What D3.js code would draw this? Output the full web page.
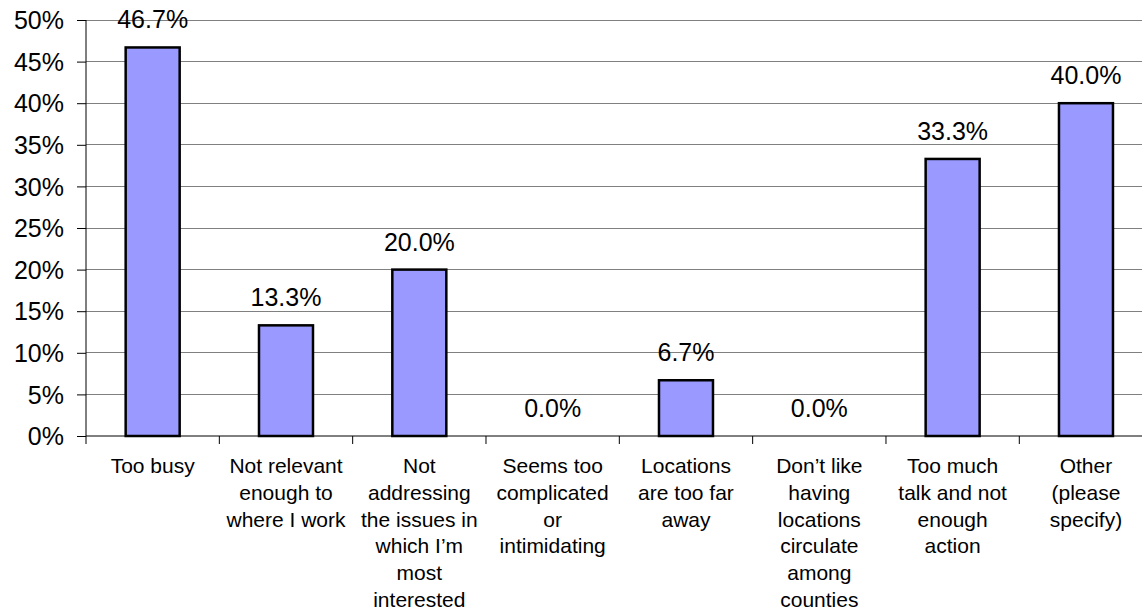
<!DOCTYPE html>
<html><head><meta charset="utf-8">
<script src="https://cdn.jsdelivr.net/npm/d3@7/dist/d3.min.js"></script>
<style>body{margin:0;background:#fff}svg{display:block}text{font-family:"Liberation Sans",Arial,sans-serif;fill:#000}</style>
</head><body><svg id="c" width="1142" height="613"></svg>
<script>
const categories = ["Too busy","Not relevant enough to where I work","Not addressing the issues in which I’m most interested","Seems too complicated or intimidating","Locations are too far away","Don’t like having locations circulate among counties","Too much talk and not enough action","Other (please specify)"];
const categoryLines = [
  ["Too busy"],
  ["Not relevant","enough to","where I work"],
  ["Not","addressing","the issues in","which I’m","most","interested"],
  ["Seems too","complicated","or","intimidating"],
  ["Locations","are too far","away"],
  ["Don’t like","having","locations","circulate","among","counties"],
  ["Too much","talk and not","enough","action"],
  ["Other","(please","specify)"]
];
const values = [46.7,13.3,20.0,0.0,6.7,0.0,33.3,40.0];
const yTicks = [0,5,10,15,20,25,30,35,40,45,50];

const svg = d3.select("#c");
const mLeft = 86, mTop = 20, mBottom = 436;
const step = 133.33;
const x = d3.scaleBand().domain(categories).range([mLeft, mLeft + step*categories.length]).paddingInner(0.595).paddingOuter(0.2975);
const y = d3.scaleLinear().domain([0,50]).range([mBottom, mTop]);

// gridlines
svg.append("g").selectAll("line").data(yTicks.filter(d=>d>0)).join("line")
  .attr("x1", mLeft).attr("x2", 1142).attr("y1", d=>y(d)).attr("y2", d=>y(d))
  .attr("stroke", "#808080").attr("stroke-width", 1).attr("shape-rendering","crispEdges");

// y axis
const yAxis = d3.axisLeft(y).tickValues(yTicks).tickFormat(d=>d+"%").tickSize(9).tickPadding(13);
const gy = svg.append("g").attr("transform", `translate(${mLeft},0)`).call(yAxis);
gy.attr("font-family", null).attr("font-size", null);
gy.select(".domain").attr("stroke","#000").attr("d", `M0,${mTop}V${mBottom}`);
gy.selectAll(".tick line").attr("stroke","#000");
gy.selectAll("text").style("font-size","25px").attr("dy","0.35em");

// bars
svg.append("g").selectAll("rect").data(values).join("rect")
  .attr("x", (d,i)=>x(categories[i])).attr("width", x.bandwidth())
  .attr("y", d=>y(d)).attr("height", d=>mBottom - y(d))
  .attr("fill", "#9999FF").attr("stroke", "#000").attr("stroke-width", 2.5);

// x axis
const gx = svg.append("g").attr("transform", `translate(0,${mBottom})`);
gx.append("line").attr("x1", mLeft).attr("x2", 1142).attr("y1",0).attr("y2",0).attr("stroke","#000");
const bounds = d3.range(categories.length+1).map(i=>mLeft + i*x.step());
gx.selectAll("line.t").data(bounds).join("line").attr("class","t")
  .attr("x1", d=>d).attr("x2", d=>d).attr("y1",0).attr("y2",8).attr("stroke","#000");

// category labels
categories.forEach((c,i)=>{
  const cx = x(c) + x.bandwidth()/2;
  const t = gx.append("text").attr("text-anchor","middle").style("font-size","21px");
  categoryLines[i].forEach((ln,j)=>{
    t.append("tspan").attr("x", cx).attr("y", 37 + j*26.8).text(ln);
  });
});

// value labels
svg.append("g").selectAll("text").data(values).join("text")
  .attr("x", (d,i)=>x(categories[i]) + x.bandwidth()/2)
  .attr("y", d=>y(d) - 19)
  .attr("text-anchor","middle").style("font-size","25px")
  .text(d=>d.toFixed(1)+"%");
</script></body></html>
